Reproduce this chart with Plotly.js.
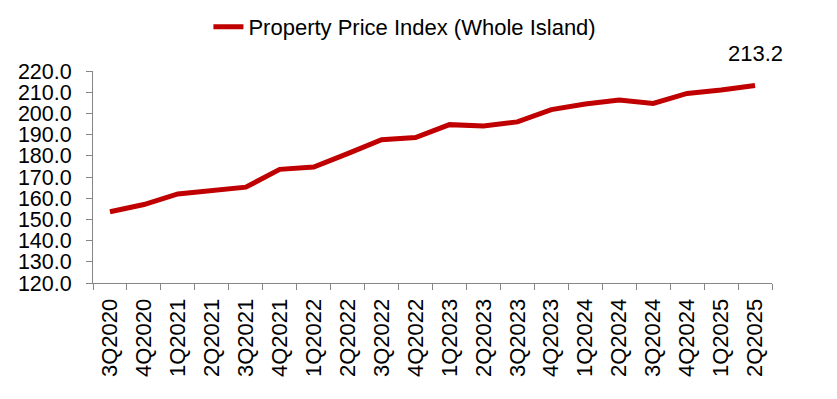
<!DOCTYPE html>
<html>
<head>
<meta charset="utf-8">
<script src="https://cdn.plot.ly/plotly-3.0.1.min.js"></script>
<style>html,body{margin:0;padding:0;background:#fff;}#chart{width:837px;height:399px;}</style>
</head>
<body>
<div id="chart"></div>
<script>
const quarters = ["3Q2020","4Q2020","1Q2021","2Q2021","3Q2021","4Q2021","1Q2022","2Q2022","3Q2022","4Q2022",
                  "1Q2023","2Q2023","3Q2023","4Q2023","1Q2024","2Q2024","3Q2024","4Q2024","1Q2025","2Q2025"];
const ppi = [153.6,157.0,162.0,163.6,165.2,173.6,174.7,181.0,187.6,188.6,
             194.7,194.1,196.0,201.8,204.4,206.3,204.7,209.4,211.0,213.2];
const seriesName = "Property Price Index (Whole Island)";
const yTicks = [120,130,140,150,160,170,180,190,200,210,220];

const font = {family: "Liberation Sans, Arial, sans-serif", size: 22, color: "#000"};
const yFont = {family: "Liberation Sans, Arial, sans-serif", size: 21.5, color: "#000"};
const last = ppi.length - 1;

Plotly.newPlot("chart", [{
  type: "scatter", mode: "lines", x: quarters, y: ppi, name: seriesName,
  line: {color: "#C00000", width: 5}
}], {
  width: 837, height: 399,
  margin: {l: 93, r: 65, t: 71, b: 116, autoexpand: false},
  paper_bgcolor: "#fff", plot_bgcolor: "#fff",
  font: font,
  showlegend: true,
  legend: {orientation: "h", x: 0.17, xanchor: "left", y: 1.208, yanchor: "middle",
           font: font, bgcolor: "rgba(0,0,0,0)"},
  xaxis: {type: "category", range: [-0.5, quarters.length - 0.5], tickangle: -90, tickson: "boundaries",
          ticks: "outside", ticklen: 6, ticklabelstandoff: 6,
          tickcolor: "#868686", showline: true, linecolor: "#868686", linewidth: 1,
          showgrid: false, zeroline: false, tickfont: font, fixedrange: true},
  yaxis: {range: [120, 220], tickvals: yTicks, tickformat: ".1f", ticks: "outside", ticklen: 6,
          ticklabelstandoff: 10,
          tickcolor: "#868686", showline: true, linecolor: "#868686", linewidth: 1,
          showgrid: false, zeroline: false, tickfont: yFont, fixedrange: true},
  annotations: [{x: quarters[last], y: ppi[last], text: ppi[last].toFixed(1), showarrow: false,
                 xanchor: "center", yanchor: "middle", yshift: 32, font: font}]
}, {displayModeBar: false, staticPlot: true});
</script>
</body>
</html>
